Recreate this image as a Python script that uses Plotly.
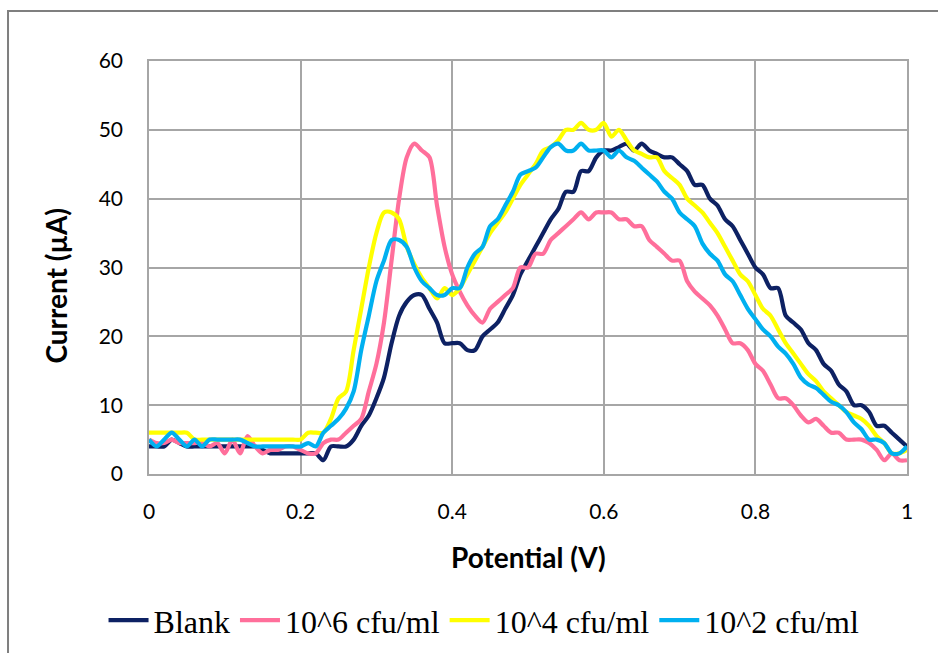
import plotly.graph_objects as go

potential = [round(i * 0.01, 2) for i in range(101)]

blank = [4, 4, 4, 5, 4.5, 4, 4, 4, 4, 4,
         4, 4, 4, 4, 4, 3.5, 3, 3, 3, 3,
         3, 3, 3, 2, 4, 4, 4, 5, 7, 8.5,
         11, 14, 19, 23, 25, 26, 26, 24, 22, 19,
         19, 19, 18, 18, 20, 21, 22, 24, 26, 29,
         31, 33, 35, 37, 38.5, 41, 41, 44, 44, 46,
         47, 47, 47.5, 48, 47, 48, 47, 46.5, 46, 46,
         45, 44, 42, 42, 40, 39, 37, 36, 34, 32,
         30, 29, 27, 27, 23, 22, 21, 19, 18, 16,
         15, 13, 12, 10, 10, 9, 7, 7, 6, 5,
         4]

cfu6 = [5, 4.5, 4.5, 5, 4.5, 4.5, 4.5, 4.5, 4, 4.5,
        3, 5, 3, 5.5, 4, 3, 3.5, 3.5, 4, 4,
        3.5, 3, 3, 4.5, 5, 5, 6, 7, 8, 12,
        16, 22, 31, 40, 46, 48, 47, 46, 39, 33,
        29, 26.5, 24.5, 23, 22, 24, 25, 26, 27, 30,
        30, 32, 32, 34, 35, 36, 37, 38, 37, 38,
        38, 38, 37, 37, 36, 36, 34, 33, 32, 31,
        31, 28, 26.5, 25.5, 24.5, 23, 21, 19, 19, 18,
        16, 15, 13, 11, 11, 10, 8.5, 7.5, 8, 7,
        6, 6, 5, 5, 5, 4.5, 3.5, 2, 3, 2,
        2]

cfu4 = [6, 6, 6, 6, 6, 6, 5, 5, 5, 5,
        5, 5, 5, 5, 5, 5, 5, 5, 5, 5,
        5, 6, 6, 6, 8, 11, 12, 18, 24, 30,
        35, 38, 38, 37, 33, 30.5, 28.5, 27, 25.5, 27,
        26, 27, 29, 31, 33, 35, 36.5, 38, 40, 42,
        43.5, 45, 47, 47.5, 48.5, 50, 50, 51, 50, 50,
        51, 49, 50, 48.5, 47, 46.5, 46, 46, 44, 43,
        42, 40, 39, 38, 36.5, 35, 33, 31, 29, 28,
        26, 24, 23, 21, 19, 17.5, 16, 14.5, 13.5, 12,
        11, 10, 9, 8.5, 8, 7, 5.5, 4.5, 3, 3,
        3.5]

cfu2 = [5, 4, 5, 6, 5, 4, 5, 4, 5, 5,
        5, 5, 5, 4.5, 4, 4, 4, 4, 4, 4,
        4, 4.5, 4, 6, 7, 8, 9.5, 12, 18, 23,
        28, 31, 34, 34, 33, 30, 28, 27, 26, 26,
        27, 27, 30, 32, 33, 36, 37, 39, 41, 43.5,
        44, 44.5, 46, 47.5, 48, 47, 47, 48, 47, 47,
        47, 46, 47, 46, 45.5, 44.5, 43.5, 42.5, 41, 40,
        38, 37, 36, 33.5, 32, 31, 29, 28, 26, 24,
        22.5, 21, 20, 18.5, 17.5, 16, 14, 13, 12.5, 11.5,
        10.5, 10, 9, 7.5, 6.5, 5, 5, 4.5, 3, 3,
        4]

series_names = ["Blank", "10^6 cfu/ml", "10^4 cfu/ml", "10^2 cfu/ml"]
series_values = [blank, cfu6, cfu4, cfu2]
colors = ["#0d2163", "#ff6f9b", "#ffff00", "#00b0f0"]

x_ticks = [0, 0.2, 0.4, 0.6, 0.8, 1]
x_tick_labels = ["0", "0.2", "0.4", "0.6", "0.8", "1"]
y_ticks = [0, 10, 20, 30, 40, 50, 60]

fig = go.Figure()
for name, vals, col in zip(series_names, series_values, colors):
    fig.add_trace(go.Scatter(
        x=potential, y=vals, name=name, mode="lines",
        line=dict(color=col, width=4.2, shape="spline", smoothing=0.8),
    ))

grid = "#a6a6a6"
fig.update_layout(
    width=938, height=653,
    margin=dict(l=149, r=31, t=61, b=179, autoexpand=False),
    paper_bgcolor="white", plot_bgcolor="white",
    showlegend=True,
    legend=dict(orientation="h", x=0.442, xanchor="center",
                yref="container", y=0.05, yanchor="middle",
                font=dict(family="Liberation Serif", size=32, color="#000"),
                itemwidth=40, tracegroupgap=0, traceorder="normal"),
    xaxis=dict(range=[0, 1], tickvals=x_ticks, ticktext=x_tick_labels,
               showgrid=True, gridcolor=grid, gridwidth=1.5,
               showline=True, linecolor=grid, linewidth=1.5, mirror=True,
               zeroline=False, ticks="", ticklabelstandoff=18,
               tickfont=dict(family="Lato", size=21, color="#000")),
    yaxis=dict(range=[0, 60], tickvals=y_ticks,
               showgrid=True, gridcolor=grid, gridwidth=1.5,
               showline=True, linecolor=grid, linewidth=1.5, mirror=True,
               zeroline=False, ticks="", ticklabelstandoff=20,
               tickfont=dict(family="Lato", size=21, color="#000")),
    annotations=[
        dict(text="<b>Potential (V)</b>", x=0.5, y=-0.2, xref="paper", yref="paper",
             xanchor="center", yanchor="middle", showarrow=False,
             font=dict(family="Lato", size=28, color="#000")),
        dict(text="<b>Current (µA)</b>", x=-0.122, y=0.455, xref="paper", yref="paper",
             xanchor="center", yanchor="middle", showarrow=False, textangle=-90,
             font=dict(family="Lato", size=28, color="#000")),
    ],
    shapes=[
        dict(type="rect", xref="paper", yref="paper", x0=-0.186, x1=1.1, y0=-0.6, y1=1.121,
             line=dict(color="#7f7f7f", width=2), layer="below"),
    ],
)

fig.write_html("out.html")
